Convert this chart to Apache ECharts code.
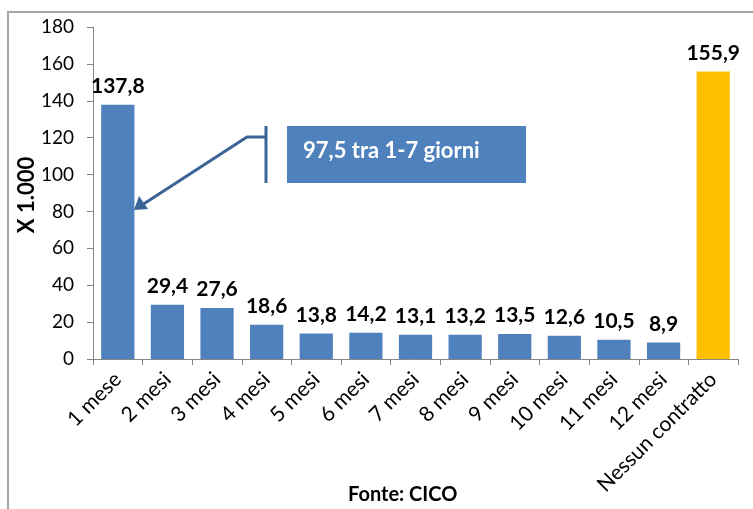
<!DOCTYPE html>
<html>
<head>
<meta charset="utf-8">
<script src="https://cdn.jsdelivr.net/npm/echarts@6/dist/echarts.min.js"></script>
<style>
  html, body { margin: 0; padding: 0; background: #fff; }
  #chart { width: 753px; height: 509px; }
</style>
</head>
<body>
<div id="chart"></div>
<script>
// categories and values (x 1.000)
const categories = ['1 mese', '2 mesi', '3 mesi', '4 mesi', '5 mesi', '6 mesi', '7 mesi',
  '8 mesi', '9 mesi', '10 mesi', '11 mesi', '12 mesi', 'Nessun contratto'];
const values = [137.8, 29.4, 27.6, 18.6, 13.8, 14.2, 13.1, 13.2, 13.5, 12.6, 10.5, 8.9, 155.9];
const highlight = 'Nessun contratto';
const yTicks = [0, 20, 40, 60, 80, 100, 120, 140, 160, 180];

const font = 'Lato';
const chart = echarts.init(document.getElementById('chart'));

const option = {
  animation: false,
  grid: { left: 93, right: 15, top: 27, bottom: 150 },
  xAxis: {
    type: 'category',
    data: categories,
    axisLine: { lineStyle: { color: '#868686' } },
    axisTick: { show: true, length: 6, lineStyle: { color: '#868686' } },
    axisLabel: { rotate: 45, fontFamily: font, fontSize: 21, color: '#000', margin: 17 }
  },
  yAxis: {
    type: 'value',
    min: yTicks[0],
    max: yTicks[yTicks.length - 1],
    interval: 20,
    axisLine: { show: true, lineStyle: { color: '#868686' } },
    axisTick: { show: true, length: 6, lineStyle: { color: '#868686' } },
    axisLabel: { fontFamily: font, fontSize: 19, color: '#000', margin: 19 },
    splitLine: { show: false }
  },
  series: [{
    type: 'bar',
    barCategoryGap: '33%',
    data: values.map((v, i) => ({
      value: v,
      itemStyle: { color: categories[i] === highlight ? '#FFC000' : '#4F81BD' }
    })),
    label: {
      show: true,
      position: 'top',
      distance: 8,
      fontFamily: font,
      fontWeight: 'bold',
      fontSize: 21,
      color: '#000',
      formatter: p => p.value.toFixed(1).replace('.', ',')
    }
  }],
  graphic: [
    // frame
    { type: 'polyline', shape: { points: [[8, 509], [8, 12], [753, 12]] },
      style: { stroke: '#A6A6A6', lineWidth: 2, fill: null } },
    // y axis title
    { type: 'text', x: 27, y: 195, rotation: Math.PI / 2,
      style: { text: 'X 1.000', fill: '#000', font: 'bold 22px Lato', align: 'center', verticalAlign: 'middle' } },
    // annotation box
    { type: 'rect', shape: { x: 287, y: 126, width: 239, height: 57 },
      style: { fill: '#4F81BD' } },
    { type: 'text', left: 303, top: 140,
      style: { text: '97,5 tra 1-7 giorni', fill: '#fff', font: 'bold 22px Lato' } },
    // bracket + arrow
    { type: 'line', shape: { x1: 266, y1: 126, x2: 266, y2: 183 },
      style: { stroke: '#3B6496', lineWidth: 3 } },
    { type: 'polyline', shape: { points: [[266, 137], [247, 137], [142, 205]] },
      style: { stroke: '#3B6496', lineWidth: 3, fill: null } },
    { type: 'polygon', shape: { points: [[134, 210], [139, 196], [148, 209]] },
      style: { fill: '#3B6496' } },
    // source
    { type: 'text', left: 348, top: 485,
      style: { text: 'Fonte: CICO', fill: '#000', font: 'bold 20px Lato' } }
  ]
};
chart.setOption(option);
</script>
</body>
</html>
